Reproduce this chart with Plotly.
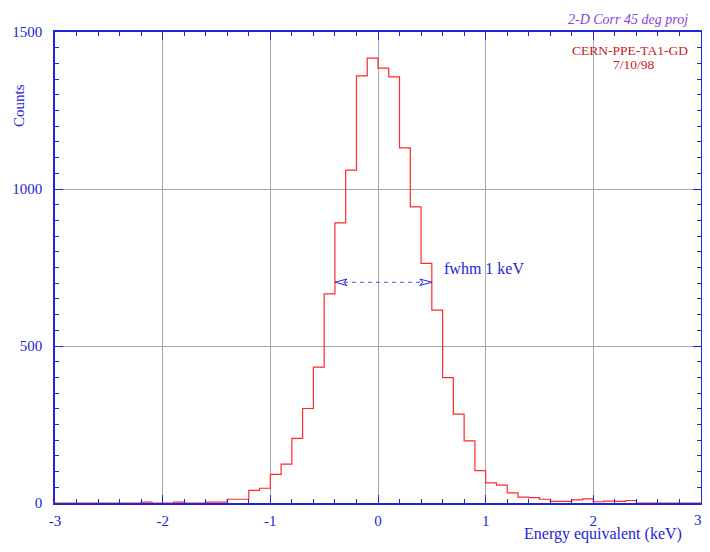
import plotly.graph_objects as go

# ---- data ----
bin_lo = -3.0
bin_width = 0.1
counts = [
    0, 0, 0, 0, 0, 0, 0, 0,            # -3.0 .. -2.2
    3, 0, 0, 3, 0, 0, 3, 3,            # -2.2 .. -1.4
    12, 12, 40, 47, 91, 124, 206, 301,  # -1.4 .. -0.6
    433, 666, 892, 1060, 1360, 1417,    # -0.6 .. 0.0
    1385, 1357, 1131, 943, 763, 614,    # 0.0 .. 0.6
    399, 283, 198, 103, 64, 57, 32, 19,  # 0.6 .. 1.4
    17, 12, 5, 5, 10, 13, 4, 6, 5, 8,    # 1.4 .. 2.4
    0, 0, 0, 0, 0, 0,                  # 2.4 .. 3.0
]
x_ticks = [-3, -2, -1, 0, 1, 2, 3]
y_ticks = [0, 500, 1000, 1500]
fwhm_lo, fwhm_hi, fwhm_level = -0.40, 0.50, 703

edges = [round(bin_lo + i * bin_width, 3) for i in range(len(counts) + 1)]
step_y = counts + [counts[-1]]

# ---- geometry (screen pixels of the 710x552 window; page body has an 8px margin) ----
OFF = 8
W, H = 710 - 2 * OFF, 552 - 2 * OFF       # no page overflow
X0, X1, Y0, Y1 = 55, 701, 32, 503          # plot area on screen
L, R, T, B = X0 - OFF, W - (X1 - OFF), Y0 - OFF, H - (Y1 - OFF)
PW, PH = X1 - X0, Y1 - Y0
def px(xs):
    return (xs - X0) / PW
def py(ys):
    return (Y1 - ys) / PH

BLUE = "#2323d8"
FONT = "Liberation Serif"

fig = go.Figure()
fig.add_trace(go.Scatter(
    x=edges, y=step_y, mode="lines", line=dict(color="#ff2a2a", width=1.2, shape="hv"),
    hoverinfo="skip", showlegend=False,
))

# arrowheads (open outlines)
kx = 6.0 / PW   # keV per pixel
ky = 1500.0 / PH
alen, ahw, anotch = 12 * kx, 3.2 * ky, 9 * kx
for tip, sgn in ((fwhm_lo, 1), (fwhm_hi, -1)):
    fig.add_trace(go.Scatter(
        x=[tip, tip + sgn * alen, tip + sgn * anotch, tip + sgn * alen, tip],
        y=[fwhm_level, fwhm_level + ahw, fwhm_level, fwhm_level - ahw, fwhm_level],
        mode="lines", line=dict(color=BLUE, width=1), hoverinfo="skip", showlegend=False,
    ))
fig.add_shape(type="line", x0=fwhm_lo + anotch, x1=fwhm_hi - anotch, y0=fwhm_level, y1=fwhm_level,
              xref="x", yref="y", line=dict(color="#4a4af0", width=1, dash="4px,4px"))

axis_common = dict(
    showline=True, linecolor=BLUE, linewidth=1.5, mirror="allticks",
    ticks="inside", ticklen=8, tickcolor=BLUE, tickwidth=1,
    showgrid=True, gridcolor="#a8a8a8", gridwidth=1, zeroline=False,
    tickfont=dict(family=FONT, size=15, color=BLUE), ticklabeloverflow="allow",
)
# the last x label sits on the plot edge; it is drawn as an annotation below
x_text = [str(v) if v != x_ticks[-1] else "" for v in x_ticks]
fig.update_xaxes(range=[x_ticks[0], x_ticks[-1]], tickvals=x_ticks, ticktext=x_text,
                 minor=dict(dtick=0.2, ticks="inside", ticklen=4, tickcolor=BLUE, showgrid=False),
                 ticklabelstandoff=3, **axis_common)
fig.update_yaxes(range=[0, 1500], tickvals=y_ticks, ticktext=[str(v) for v in y_ticks],
                 minor=dict(dtick=50, ticks="inside", ticklen=4, tickcolor=BLUE, showgrid=False),
                 ticklabelstandoff=8, **axis_common)

ann = [
    dict(text="Counts", x=px(19), y=py(106), textangle=-90, font=dict(family=FONT, size=15, color=BLUE)),
    dict(text="Energy equivalent (keV)", x=px(603), y=py(534), font=dict(family=FONT, size=16, color=BLUE)),
    dict(text="<i>2-D Corr 45 deg proj</i>", x=px(628), y=py(19), font=dict(family=FONT, size=14, color="#8a3ee0")),
    dict(text="CERN-PPE-TA1-GD", x=px(630), y=py(50), font=dict(family=FONT, size=13.5, color="#cc2020")),
    dict(text="7/10/98", x=px(634), y=py(65), font=dict(family=FONT, size=13.5, color="#cc2020")),
    dict(text="fwhm 1 keV", x=px(484), y=py(268), font=dict(family=FONT, size=16, color=BLUE)),
    dict(text=str(x_ticks[-1]), x=px(698), y=py(520), font=dict(family=FONT, size=15, color=BLUE)),
]
for a in ann:
    a.update(xref="paper", yref="paper", showarrow=False, xanchor="center", yanchor="middle")
fig.update_layout(
    width=W, height=H, margin=dict(l=L, r=R, t=T, b=B, autoexpand=False),
    paper_bgcolor="white", plot_bgcolor="white", annotations=ann, showlegend=False,
)
fig.write_html("out.html")
